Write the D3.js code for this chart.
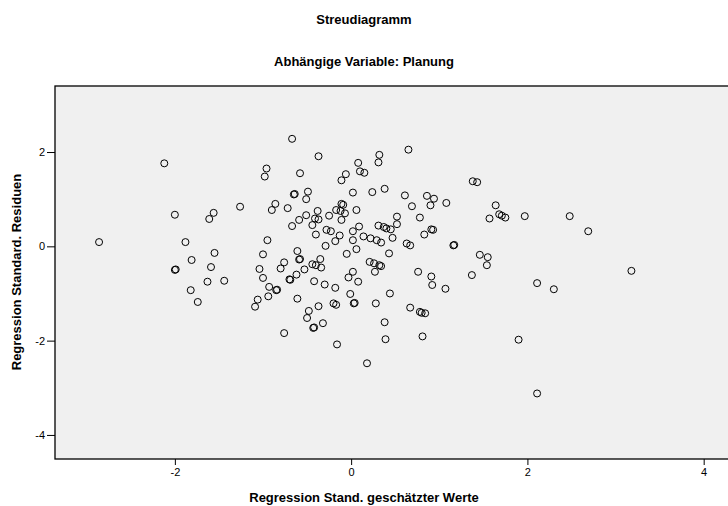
<!DOCTYPE html>
<html>
<head>
<meta charset="utf-8">
<script src="https://cdn.jsdelivr.net/npm/d3@7"></script>
<style>
  body { margin: 0; background: #fff; }
  text { font-family: "Liberation Sans", Arial, sans-serif; }
</style>
</head>
<body>
<div id="vis"></div>
<script>
// Regression Stand. geschätzter Werte (x) / Regression Standard. Residuen (y)
var geschaetzt = [
  -2.12, -2.00, -1.56, -1.61, -2.86, -1.88, -1.55, -1.81, -1.59, -2.00, -1.99, -1.63, -1.44, -1.82, -1.74,
  -0.67, -0.37, 0.32, 0.31, 0.08, -0.96, -0.98, -0.58, -0.06, 0.10, 0.15, -0.11, 0.02, 0.24, 0.38,
  -0.65, -0.64, -0.49, -0.51, -0.86, -0.90, -0.72, -1.26, -0.11, -0.09, -0.38, -0.17, -0.12, -0.07, 0.06,
  -0.59, -0.51, -0.41, -0.37, -0.25, -0.11, -0.67, -0.44, 0.09, 0.31, 0.37, 0.40, 0.45, -0.28, -0.23,
  0.02, -0.40, -0.13, 0.14, 0.22, 0.29, 0.34, 0.02, -0.18, -0.95, -0.29, 0.06, -0.05, 0.43, -1.00,
  -0.61, -0.59, -0.58, -0.76, -0.35, -0.80, -1.04, -0.44, -0.40, -0.34, -0.53, 0.21, 0.26, 0.32, 0.34,
  0.27, 0.02, -0.03, 0.08, -0.62, -0.70, -0.69, -1.00, -0.42, -0.30, -0.93, -0.85, -0.84, -0.18,
  -1.06, -1.09, -0.94, -0.61, -0.01, 0.03, 0.04, 0.28, 0.44, -0.20, -0.17, -0.37, -0.48, -0.50, -0.32,
  -0.43, -0.42, -0.76, -0.16, 0.38, 0.39, 0.18,
  0.65, 1.38, 1.43, 0.61, 0.86, 0.94, 0.69, 0.90, 1.08, 0.78, 0.52, 0.52, 1.64, 1.57, 1.68, 1.71, 1.75,
  1.97, 0.47, 0.83, 0.91, 0.93, 0.63, 0.67, 1.16, 1.17, 0.76, 0.91, 0.92, 1.07, 1.46, 1.55, 1.54, 1.37,
  2.11, 0.67, 0.78, 0.80, 0.84, 0.81, 1.90, 2.11, 2.48, 2.69, 3.18, 2.30
];
var residuen = [
  1.76, 0.67, 0.71, 0.58, 0.09, 0.09, -0.14, -0.29, -0.44, -0.50, -0.49, -0.75, -0.73, -0.93, -1.18,
  2.28, 1.91, 1.94, 1.78, 1.77, 1.65, 1.48, 1.55, 1.53, 1.59, 1.56, 1.40, 1.14, 1.15, 1.22,
  1.10, 1.11, 1.16, 1.00, 0.90, 0.77, 0.81, 0.84, 0.90, 0.88, 0.75, 0.77, 0.75, 0.70, 0.77,
  0.56, 0.66, 0.59, 0.57, 0.65, 0.56, 0.43, 0.45, 0.42, 0.44, 0.41, 0.38, 0.36, 0.35, 0.32,
  0.32, 0.25, 0.23, 0.21, 0.17, 0.13, 0.08, 0.13, 0.11, 0.13, 0.01, -0.06, -0.16, -0.15, -0.17,
  -0.10, -0.28, -0.27, -0.34, -0.27, -0.47, -0.48, -0.38, -0.40, -0.45, -0.49, -0.33, -0.36, -0.40, -0.42,
  -0.54, -0.54, -0.66, -0.75, -0.60, -0.70, -0.71, -0.67, -0.74, -0.81, -0.86, -0.93, -0.92, -0.88,
  -1.13, -1.28, -1.06, -1.11, -1.01, -1.21, -1.20, -1.21, -1.00, -1.21, -1.24, -1.27, -1.37, -1.52, -1.63,
  -1.73, -1.72, -1.84, -2.08, -1.61, -1.97, -2.48,
  2.05, 1.38, 1.36, 1.08, 1.07, 1.01, 0.85, 0.87, 0.92, 0.61, 0.63, 0.47, 0.87, 0.59, 0.68, 0.65, 0.61,
  0.64, 0.18, 0.25, 0.36, 0.35, 0.06, 0.02, 0.02, 0.03, -0.54, -0.64, -0.82, -0.90, -0.18, -0.23, -0.40, -0.61,
  -0.78, -1.30, -1.39, -1.41, -1.42, -1.91, -1.98, -3.12, 0.64, 0.32, -0.52, -0.91
];
var xTicks = [-2, 0, 2, 4];
var yTicks = [-4, -2, 0, 2];

var titel = "Streudiagramm";
var untertitel = "Abhängige Variable: Planung";
var xTitel = "Regression Stand. geschätzter Werte";
var yTitel = "Regression Standard. Residuen";

var w = 728, h = 506;
var plotLeft = 55, plotTop = 86, plotRight = 731, plotBottom = 459;

var svg = d3.select("#vis").append("svg")
  .attr("width", w)
  .attr("height", h);

var xScale = d3.scaleLinear().domain([-3.36, 4.31]).range([plotLeft, plotRight]);
var yScale = d3.scaleLinear().domain([-4.51, 3.40]).range([plotBottom, plotTop]);

// plot background with frame
svg.append("rect")
  .attr("x", plotLeft)
  .attr("y", plotTop)
  .attr("width", plotRight - plotLeft)
  .attr("height", plotBottom - plotTop)
  .attr("fill", "#f0f0f0")
  .attr("stroke", "#000")
  .attr("stroke-width", 1.3);

// axes, plain hyphen as minus like SPSS
var fmt = function(d) { return String(d); };
var xAxis = svg.append("g")
  .attr("transform", "translate(0," + plotBottom + ")")
  .call(d3.axisBottom(xScale).tickValues(xTicks).tickSize(6).tickSizeOuter(0).tickFormat(fmt));
var yAxis = svg.append("g")
  .attr("transform", "translate(" + plotLeft + ",0)")
  .call(d3.axisLeft(yScale).tickValues(yTicks).tickSize(8).tickSizeOuter(0).tickFormat(fmt));

[xAxis, yAxis].forEach(function(a) {
  a.select(".domain").remove();
  a.selectAll("line").attr("stroke", "#000").attr("stroke-width", 1);
  a.selectAll("text")
    .attr("fill", "#000")
    .style("font-size", "11px")
    .style("font-family", "'Liberation Sans', Arial, sans-serif");
});
xAxis.selectAll("text").attr("dy", "0.71em").attr("y", 9);
yAxis.selectAll("text").attr("x", -10);

// points
svg.append("g").selectAll("circle")
  .data(d3.range(geschaetzt.length))
  .enter()
  .append("circle")
  .attr("cx", function(i) { return xScale(geschaetzt[i]); })
  .attr("cy", function(i) { return yScale(residuen[i]); })
  .attr("r", 3.5)
  .attr("fill", "none")
  .attr("stroke", "#000")
  .attr("stroke-width", 1);

// titles
svg.append("text")
  .attr("x", 364).attr("y", 24)
  .attr("text-anchor", "middle")
  .attr("font-size", "13px").attr("font-weight", "bold")
  .text(titel);
svg.append("text")
  .attr("x", 364).attr("y", 66)
  .attr("text-anchor", "middle")
  .attr("font-size", "13px").attr("font-weight", "bold")
  .text(untertitel);
svg.append("text")
  .attr("x", 364).attr("y", 502)
  .attr("text-anchor", "middle")
  .attr("font-size", "13px").attr("font-weight", "bold")
  .text(xTitel);
svg.append("text")
  .attr("transform", "translate(21,272) rotate(-90)")
  .attr("text-anchor", "middle")
  .attr("font-size", "13px").attr("font-weight", "bold")
  .text(yTitel);
</script>
</body>
</html>
